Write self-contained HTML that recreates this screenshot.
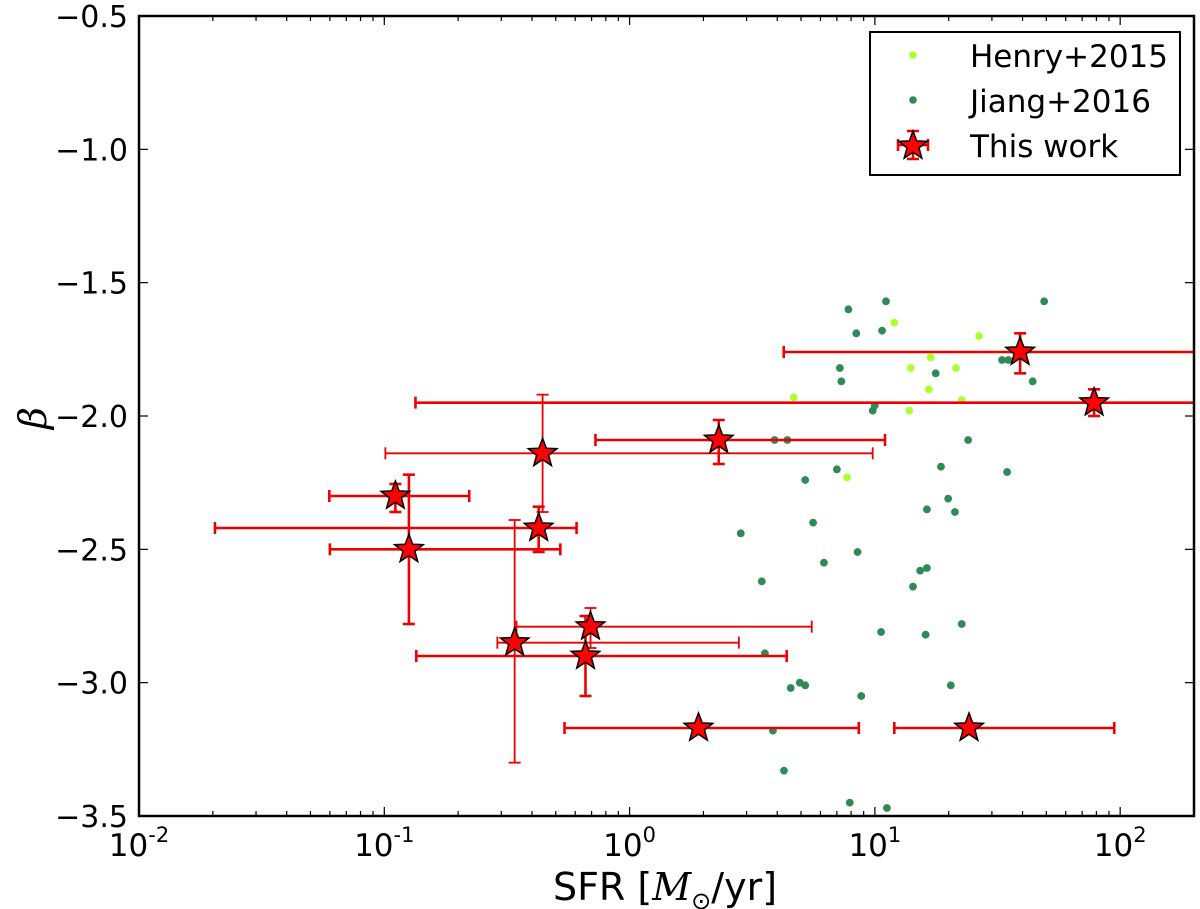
<!DOCTYPE html>
<html><head><meta charset="utf-8"><title>SFR vs beta</title>
<style>html,body{margin:0;padding:0;background:#fff;}svg{display:block;}</style></head>
<body>
<svg id="chart" xmlns="http://www.w3.org/2000/svg" width="1200" height="909" viewBox="0 0 1200 909" font-family="'DejaVu Sans','Liberation Sans',sans-serif">
<rect x="0" y="0" width="1200" height="909" fill="#fff"/>
<g id="marks"></g>
<g id="axes"></g>
<text x="665" y="900" text-anchor="middle" font-size="38">SFR [<tspan font-family="'DejaVu Serif','Liberation Serif',serif" font-style="italic">M</tspan><tspan font-size="24" dy="9">⊙</tspan><tspan dy="-9">/yr]</tspan></text>
<text x="46" y="418" text-anchor="middle" font-size="38" font-family="'DejaVu Serif','Liberation Serif',serif" font-style="italic" transform="rotate(-90 46 418)">β</text>
<g id="legend">
<rect x="870" y="32" width="310" height="143" fill="#fff" stroke="#000" stroke-width="2"/>
<circle cx="913" cy="55" r="3.8" fill="#adff2f"/>
<text x="970" y="67" font-size="31">Henry+2015</text>
<circle cx="913" cy="100" r="3.8" fill="#2e8b57"/>
<text x="970" y="112" font-size="31">Jiang+2016</text>
<g stroke="#e00" stroke-width="2.5">
<line x1="898" y1="145" x2="928" y2="145"/><line x1="913" y1="131" x2="913" y2="159"/>
<line x1="898" y1="139" x2="898" y2="151"/><line x1="928" y1="139" x2="928" y2="151"/>
<line x1="907" y1="131" x2="919" y2="131"/><line x1="907" y1="159" x2="919" y2="159"/>
</g>
<polygon id="legstar" points="" fill="#f00" stroke="#000" stroke-width="1.5"/>
<text x="970" y="157" font-size="31">This work</text>
</g>
</svg>
<script>
// Henry+2015
const henrySFR = [12.0, 26.6, 16.9, 14.0, 21.4, 16.6, 4.67, 22.6, 13.8, 7.7];
const henryBeta = [-1.65, -1.70, -1.78, -1.82, -1.82, -1.90, -1.93, -1.94, -1.98, -2.23];
// Jiang+2016
const jiangSFR = [11.1, 7.8, 49, 8.4, 10.7, 7.2, 7.3, 17.7, 33, 35, 44, 10.0, 9.8, 3.9, 4.4, 24, 7.0, 5.2, 18.6, 34.6, 19.9, 16.3, 21.2, 5.6, 2.84, 8.5, 6.2, 15.3, 16.3, 3.46, 14.3, 22.6, 10.6, 16.1, 3.56, 4.54, 4.94, 5.2, 20.4, 8.8, 3.84, 4.26, 7.9, 11.2];
const jiangBeta = [-1.57, -1.60, -1.57, -1.69, -1.68, -1.82, -1.87, -1.84, -1.79, -1.79, -1.87, -1.96, -1.98, -2.09, -2.09, -2.09, -2.20, -2.24, -2.19, -2.21, -2.31, -2.35, -2.36, -2.40, -2.44, -2.51, -2.55, -2.58, -2.57, -2.62, -2.64, -2.78, -2.81, -2.82, -2.89, -3.02, -3.00, -3.01, -3.01, -3.05, -3.18, -3.33, -3.45, -3.47];
// This work
const workSFR = [0.442, 0.111, 0.126, 0.426, 0.340, 0.693, 0.661, 2.31, 1.91, 24.2, 39.1, 78.3];
const workBeta = [-2.14, -2.30, -2.50, -2.42, -2.85, -2.79, -2.90, -2.09, -3.17, -3.17, -1.76, -1.95];
const workSFRlo = [0.101, 0.0597, 0.060, 0.0204, 0.289, 0.346, 0.135, 0.726, 0.543, 12.0, 4.25, 0.134];
const workSFRhi = [9.8, 0.222, 0.522, 0.608, 2.79, 5.53, 4.37, 11.0, 8.6, 94.6, 300, 300];
const workBetaTop = [-1.92, -2.255, -2.22, -2.34, -2.39, -2.72, -2.75, -2.015, -3.17, -3.17, -1.69, -1.90];
const workBetaBot = [-2.36, -2.36, -2.78, -2.51, -3.30, -2.87, -3.05, -2.18, -3.17, -3.17, -1.84, -2.00];
const workThin = [true, false, false, false, true, true, false, false, false, false, false, false];
const xTickExps = [-2, -1, 0, 1, 2];
const yTicks = [-0.5, -1.0, -1.5, -2.0, -2.5, -3.0, -3.5];
const yTickLabels = ["\u22120.5", "\u22121.0", "\u22121.5", "\u22122.0", "\u22122.5", "\u22123.0", "\u22123.5"];

const L = 139, R = 1194, T = 16, B = 816;
const xMin = -2, xMax = Math.log10(200), yMin = -3.5, yMax = -0.5;
function xs(v){ return L + (Math.log10(v) - xMin) / (xMax - xMin) * (R - L); }
function ys(v){ return B - (v - yMin) / (yMax - yMin) * (B - T); }
const NS = "http://www.w3.org/2000/svg";
function mk(tag, attrs, parent){ const e = document.createElementNS(NS, tag); for (const k in attrs) e.setAttribute(k, attrs[k]); parent.appendChild(e); return e; }
function starPts(cx, cy, r){ const p = []; for (let i = 0; i < 10; i++){ const a = -Math.PI/2 + i*Math.PI/5; const rr = i%2 ? r*0.42 : r; p.push((cx+rr*Math.cos(a)).toFixed(1)+","+(cy+rr*Math.sin(a)).toFixed(1)); } return p.join(" "); }

const marks = document.getElementById('marks');
const clip = mk('clipPath', {id:'pc'}, marks); mk('rect', {x:L, y:T, width:R-L, height:B-T}, clip);
const g = mk('g', {'clip-path':'url(#pc)'}, marks);


jiangSFR.forEach((s, i) => {
  const c = mk('circle', {cx:xs(s), cy:ys(jiangBeta[i]), r:3.9, fill:'#2e8b57'}, g);
  
  
});
henrySFR.forEach((s, i) => {
  const c = mk('circle', {cx:xs(s), cy:ys(henryBeta[i]), r:3.9, fill:'#adff2f'}, g);
  
  
});
workSFR.forEach((s, i) => {
  const eg = mk('g', {stroke:'#e00', 'stroke-width': workThin[i] ? 1.8 : 2.6, fill:'none'}, g);
  
  
  const cx = xs(s), cy = ys(workBeta[i]);
  const x1 = xs(workSFRlo[i]), x2 = xs(workSFRhi[i]), y1 = ys(workBetaTop[i]), y2 = ys(workBetaBot[i]);
  mk('line', {x1:x1, y1:cy, x2:x2, y2:cy}, eg);
  mk('line', {x1:x1, y1:cy-6, x2:x1, y2:cy+6}, eg);
  mk('line', {x1:x2, y1:cy-6, x2:x2, y2:cy+6}, eg);
  if (Math.abs(y2 - y1) > 1){
    mk('line', {x1:cx, y1:y1, x2:cx, y2:y2}, eg);
    mk('line', {x1:cx-6, y1:y1, x2:cx+6, y2:y1}, eg);
    mk('line', {x1:cx-6, y1:y2, x2:cx+6, y2:y2}, eg);
  }
});
workSFR.forEach((s, i) => {
  const st = mk('polygon', {points:starPts(xs(s), ys(workBeta[i]), 15), fill:'#f00', stroke:'#000', 'stroke-width':1.5}, g);
  
  
});
document.getElementById('legstar').setAttribute('points', starPts(913, 146, 15));

const ax = document.getElementById('axes');
mk('rect', {x:L, y:T, width:R-L, height:B-T, fill:'none', stroke:'#000', 'stroke-width':2.5}, ax);
for (let e = -2; e <= 2; e++){
  for (let m = 1; m <= 9; m++){
    const v = m * Math.pow(10, e); const x = xs(v);
    if (x < L - 0.5 || x > R + 0.5) continue;
    const len = m === 1 ? 9 : 5;
    mk('line', {x1:x, y1:B, x2:x, y2:B-len, stroke:'#000', 'stroke-width':1.2}, ax);
    mk('line', {x1:x, y1:T, x2:x, y2:T+len, stroke:'#000', 'stroke-width':1.2}, ax);
  }
}
xTickExps.forEach(e => {
  const t = mk('text', {x:xs(Math.pow(10, e)), y:856, 'text-anchor':'middle', 'font-size':31}, ax);
  
  
  t.innerHTML = '10<tspan font-size="21" dy="-14">' + (e < 0 ? '-' + (-e) : e) + '</tspan>';
});
yTicks.forEach((v, i) => {
  const y = ys(v);
  mk('line', {x1:L, y1:y, x2:L+9, y2:y, stroke:'#000', 'stroke-width':1.2}, ax);
  mk('line', {x1:R, y1:y, x2:R-9, y2:y, stroke:'#000', 'stroke-width':1.2}, ax);
  const t = mk('text', {x:128, y:y+11, 'text-anchor':'end', 'font-size':30}, ax);
  
  
  t.textContent = yTickLabels[i];
});
</script>
</body></html>
